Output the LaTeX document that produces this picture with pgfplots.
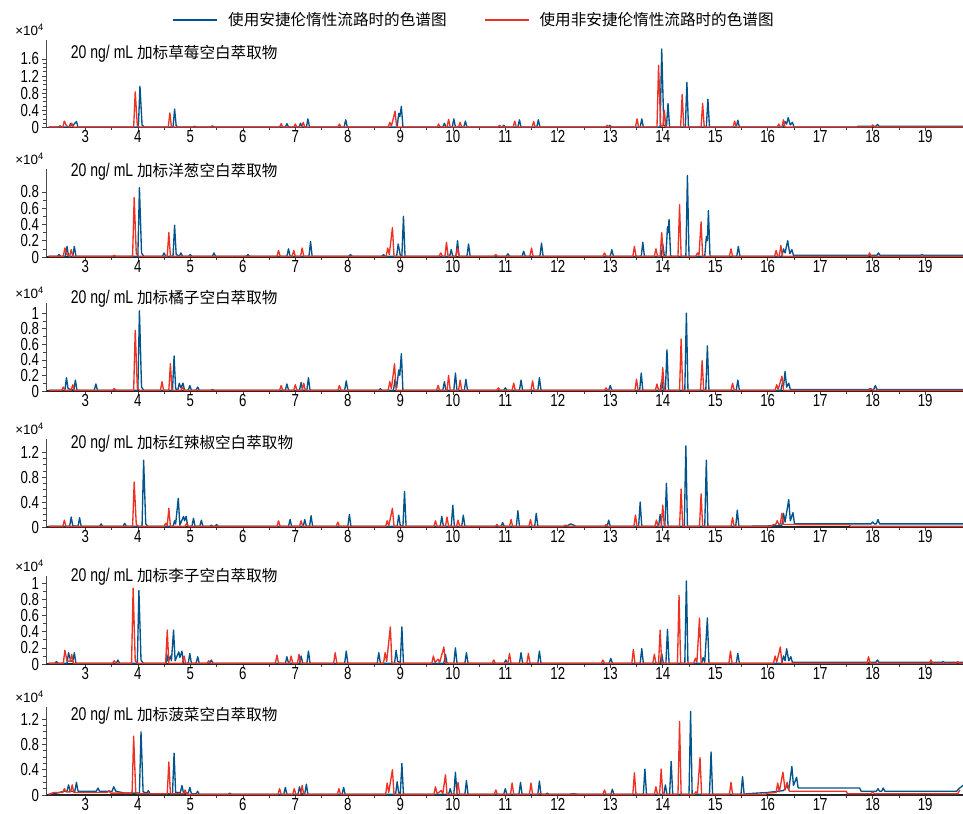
\documentclass[border=0pt]{standalone}
\usepackage{pgfplots}
\pgfplotsset{compat=1.18}
\usepackage{fontspec}
\setmainfont{Liberation Sans}[FakeStretch=0.76]
\newfontfamily\plainsans{Liberation Sans}
\newfontfamily\cjk{Noto Sans CJK SC}
\definecolor{inertblue}{RGB}{0,84,140}
\definecolor{stdred}{RGB}{237,50,36}
\newcommand\tickfont{\fontsize{17.5}{17.5}\selectfont}
\newcommand\titlefont{\fontsize{18.5}{19}\selectfont}
\newcommand\cjkfont{\cjk\fontsize{15.6bp}{17bp}\selectfont}
\newcommand\expfont{\plainsans\fontsize{13.5}{13.5}\selectfont}
% legend key: a coloured stroke set in front of the entry text
\newcommand\keyline[1]{\textcolor{#1}{\rule[0.3em]{44bp}{1.2bp}}\hspace*{11bp}}

\pgfplotsset{
  chrom/.style={
    scale only axis, width=917bp, height=88bp,
    anchor=south west,
    xmin=2.25, xmax=19.72, ymin=0,
    axis x line*=bottom, axis y line*=left,
    xtick={3,...,19}, minor x tick num=1,
    tick align=outside,
    major tick length=3.5bp, minor tick length=2.5bp,
    tick style={black!75, line width=0.6pt},
    x axis line style={black!85, line width=1.3pt},
    y axis line style={black!70, line width=0.6pt},
    tick label style={font=\tickfont},
    /pgf/number format/assume math mode=true,
    scaled y ticks=false,
    yticklabel style={/pgf/number format/fixed, inner ysep=0pt},
    xticklabel style={yshift=4bp},
    clip mode=individual,
    every axis plot/.append style={line width=1.35pt, line join=round, mark=none},
  },
}
\newcommand\expnote{\node[anchor=east, font=\expfont, inner sep=0pt] at (rel axis cs:0,1.114) {×10\textsuperscript{4}\hspace*{2bp}};}

\begin{document}
\begin{tikzpicture}
\path[use as bounding box] (0,0) rectangle (963bp,-814bp);

% ---------- strawberry ----------
\begin{axis}[chrom, at={(46bp,-127.5bp)}, ymax=2.05,
  ytick={0,0.4,0.8,1.2,1.6}, minor y tick num=3,
  legend image code/.code={},
  legend style={at={(rel axis cs:0.1385,1.227)}, anchor=west, draw=none, fill=none,
    legend columns=2, font=\cjkfont, inner sep=0pt,
    nodes={inner sep=0pt},
    /tikz/every odd column/.append style={column sep=0bp},
    /tikz/every even column/.append style={column sep=38bp}},
]
\addplot[color=inertblue] coordinates {(2.30,0.01)(2.49,0.01)(2.52,0.04)(2.55,0.01)(2.69,0.01)(2.72,0.10)(2.75,0.03)(2.83,0.14)(2.86,0.01)(4.01,0.01)(4.04,0.96)(4.08,0.06)(4.12,0.01)(4.67,0.01)(4.70,0.43)(4.73,0.04)(4.77,0.01)(5.05,0.01)(5.08,0.03)(5.11,0.01)(5.39,0.01)(5.42,0.04)(5.45,0.01)(6.81,0.01)(6.84,0.09)(6.87,0.01)(7.07,0.01)(7.10,0.10)(7.13,0.01)(7.21,0.01)(7.24,0.20)(7.27,0.01)(7.93,0.01)(7.96,0.18)(7.99,0.01)(8.94,0.01)(8.97,0.33)(8.99,0.25)(9.02,0.49)(9.05,0.01)(9.81,0.01)(9.84,0.10)(9.87,0.01)(9.99,0.01)(10.02,0.20)(10.05,0.01)(10.21,0.01)(10.24,0.15)(10.27,0.01)(10.94,0.01)(10.97,0.05)(11.00,0.01)(11.24,0.01)(11.27,0.18)(11.30,0.01)(11.60,0.01)(11.63,0.18)(11.66,0.01)(12.96,0.01)(12.99,0.05)(13.02,0.01)(13.57,0.01)(13.60,0.20)(13.63,0.01)(13.95,0.01)(13.98,1.83)(14.02,0.05)(14.07,0.01)(14.10,0.56)(14.13,0.01)(14.43,0.01)(14.46,1.05)(14.49,0.01)(14.83,0.01)(14.86,0.66)(14.89,0.01)(15.40,0.01)(15.43,0.17)(15.46,0.01)(16.30,0.01)(16.33,0.14)(16.36,0.08)(16.39,0.23)(16.43,0.06)(16.47,0.12)(16.50,0.01)(17.70,0.01)(17.72,0.03)(18.06,0.03)(18.09,0.07)(18.12,0.03)(19.72,0.03)};
\addlegendentry{\keyline{inertblue}使用安捷伦惰性流路时的色谱图}
\addplot[color=stdred] coordinates {(2.30,0.01)(2.57,0.01)(2.60,0.15)(2.64,0.04)(2.71,0.01)(2.74,0.10)(2.77,0.01)(3.92,0.01)(3.95,0.83)(3.99,0.04)(4.03,0.01)(4.58,0.01)(4.61,0.34)(4.64,0.01)(6.70,0.01)(6.73,0.09)(6.76,0.01)(6.97,0.01)(7.00,0.08)(7.03,0.01)(7.12,0.01)(7.15,0.12)(7.18,0.01)(7.81,0.01)(7.84,0.08)(7.87,0.01)(8.77,0.01)(8.80,0.12)(8.83,0.03)(8.90,0.38)(8.93,0.01)(9.70,0.01)(9.73,0.08)(9.76,0.01)(9.89,0.01)(9.92,0.19)(9.95,0.01)(10.11,0.01)(10.14,0.12)(10.17,0.01)(10.86,0.01)(10.89,0.05)(10.92,0.01)(11.15,0.01)(11.18,0.15)(11.21,0.01)(11.51,0.01)(11.54,0.14)(11.57,0.01)(12.91,0.01)(12.94,0.05)(12.97,0.01)(13.48,0.01)(13.51,0.20)(13.54,0.01)(13.89,0.01)(13.92,1.45)(13.96,0.05)(14.00,0.02)(14.03,0.40)(14.06,0.01)(14.34,0.01)(14.37,0.77)(14.40,0.01)(14.73,0.01)(14.76,0.56)(14.79,0.01)(15.34,0.01)(15.37,0.15)(15.40,0.01)(16.18,0.01)(16.21,0.08)(16.24,0.01)(16.27,0.01)(16.30,0.18)(16.33,0.01)(17.97,0.01)(18.00,0.06)(18.03,0.01)(19.72,0.01)};
\addlegendentry{\keyline{stdred}使用非安捷伦惰性流路时的色谱图}
\expnote
\node[anchor=west, inner sep=0pt] at (rel axis cs:0.027,0.84) {\titlefont 20 ng/ mL {\cjkfont 加标草莓空白萃取物}};
\end{axis}

% ---------- onion ----------
\begin{axis}[chrom, at={(46bp,-257bp)}, ymax=1.08,
  ytick={0,0.2,0.4,0.6,0.8}, minor y tick num=1]
\addplot[color=inertblue] coordinates {(2.30,0.01)(2.47,0.01)(2.50,0.03)(2.53,0.01)(2.62,0.01)(2.65,0.13)(2.68,0.01)(2.76,0.01)(2.79,0.13)(2.82,0.01)(4.00,0.01)(4.03,0.85)(4.07,0.05)(4.11,0.01)(4.47,0.01)(4.50,0.05)(4.53,0.01)(4.67,0.01)(4.70,0.39)(4.73,0.03)(4.79,0.01)(4.82,0.05)(4.85,0.01)(4.97,0.01)(5.00,0.03)(5.03,0.01)(5.42,0.01)(5.45,0.05)(5.48,0.01)(6.07,0.01)(6.10,0.03)(6.13,0.01)(6.84,0.01)(6.87,0.10)(6.90,0.01)(7.26,0.01)(7.29,0.19)(7.32,0.01)(8.02,0.01)(8.05,0.03)(8.08,0.01)(8.65,0.01)(8.68,0.03)(8.71,0.01)(8.93,0.01)(8.96,0.16)(9.00,0.02)(9.03,0.01)(9.06,0.50)(9.09,0.01)(9.94,0.01)(9.97,0.09)(10.00,0.01)(10.06,0.01)(10.09,0.20)(10.12,0.01)(10.27,0.01)(10.30,0.16)(10.33,0.01)(11.02,0.01)(11.05,0.04)(11.08,0.01)(11.32,0.01)(11.35,0.07)(11.38,0.01)(11.66,0.01)(11.69,0.17)(11.72,0.01)(13.00,0.01)(13.03,0.09)(13.06,0.01)(13.59,0.01)(13.62,0.18)(13.65,0.01)(13.97,0.01)(14.00,0.16)(14.03,0.01)(14.06,0.01)(14.09,0.37)(14.10,0.30)(14.12,0.46)(14.15,0.01)(14.44,0.01)(14.47,1.00)(14.50,0.01)(14.80,0.01)(14.83,0.25)(14.85,0.20)(14.87,0.57)(14.90,0.01)(15.41,0.01)(15.44,0.13)(15.47,0.01)(16.27,0.01)(16.30,0.10)(16.33,0.05)(16.38,0.20)(16.42,0.04)(16.46,0.09)(16.49,0.02)(18.08,0.02)(18.11,0.05)(18.14,0.02)(18.91,0.02)(18.94,0.03)(18.97,0.02)(19.72,0.02)};
\addplot[color=stdred] coordinates {(2.30,0.01)(2.58,0.01)(2.61,0.11)(2.65,0.03)(2.70,0.01)(2.73,0.09)(2.76,0.01)(3.52,0.01)(3.55,0.02)(3.58,0.01)(3.90,0.01)(3.93,0.73)(3.97,0.04)(4.01,0.01)(4.56,0.01)(4.59,0.30)(4.62,0.01)(6.65,0.01)(6.68,0.08)(6.71,0.01)(6.94,0.01)(6.97,0.08)(7.00,0.01)(7.10,0.01)(7.13,0.11)(7.16,0.01)(8.73,0.01)(8.76,0.11)(8.79,0.03)(8.85,0.36)(8.88,0.01)(9.74,0.01)(9.77,0.05)(9.80,0.01)(9.85,0.01)(9.88,0.18)(9.91,0.01)(10.06,0.01)(10.09,0.11)(10.12,0.01)(10.79,0.01)(10.82,0.03)(10.85,0.01)(11.47,0.01)(11.50,0.11)(11.53,0.01)(12.86,0.01)(12.89,0.05)(12.92,0.01)(13.43,0.01)(13.46,0.13)(13.49,0.01)(13.84,0.01)(13.87,0.10)(13.90,0.01)(13.95,0.01)(13.98,0.30)(14.01,0.01)(14.29,0.01)(14.32,0.64)(14.35,0.01)(14.63,0.01)(14.66,0.05)(14.69,0.02)(14.73,0.43)(14.76,0.01)(15.27,0.01)(15.30,0.10)(15.33,0.01)(16.13,0.01)(16.16,0.08)(16.19,0.01)(16.22,0.01)(16.25,0.14)(16.28,0.01)(17.91,0.01)(17.94,0.05)(17.97,0.01)(19.72,0.01)};
\expnote
\node[anchor=west, inner sep=0pt] at (rel axis cs:0.027,0.966) {\titlefont 20 ng/ mL {\cjkfont 加标洋葱空白萃取物}};
\end{axis}

% ---------- tangerine ----------
\begin{axis}[chrom, at={(46bp,-391bp)}, ymax=1.13,
  ytick={0,0.2,0.4,0.6,0.8,1}, minor y tick num=1]
\addplot[color=inertblue] coordinates {(2.30,0.01)(2.61,0.01)(2.64,0.17)(2.67,0.03)(2.78,0.01)(2.81,0.14)(2.84,0.01)(3.17,0.01)(3.20,0.09)(3.23,0.01)(4.00,0.01)(4.03,1.03)(4.07,0.05)(4.11,0.01)(4.66,0.01)(4.69,0.45)(4.72,0.03)(4.76,0.01)(4.79,0.10)(4.82,0.04)(4.86,0.10)(4.89,0.01)(4.96,0.01)(4.99,0.07)(5.02,0.01)(5.11,0.01)(5.14,0.05)(5.17,0.01)(5.39,0.01)(5.42,0.02)(5.45,0.01)(6.81,0.01)(6.84,0.09)(6.87,0.01)(7.08,0.01)(7.11,0.11)(7.14,0.01)(7.22,0.01)(7.25,0.17)(7.28,0.01)(7.94,0.01)(7.97,0.13)(8.00,0.01)(8.59,0.01)(8.62,0.03)(8.65,0.01)(8.87,0.01)(8.90,0.15)(8.93,0.04)(8.97,0.27)(8.99,0.20)(9.02,0.48)(9.05,0.01)(9.81,0.01)(9.84,0.12)(9.87,0.01)(10.02,0.01)(10.05,0.23)(10.08,0.01)(10.22,0.01)(10.25,0.15)(10.28,0.01)(10.97,0.01)(11.00,0.04)(11.03,0.01)(11.27,0.01)(11.30,0.14)(11.33,0.01)(11.62,0.01)(11.65,0.17)(11.68,0.01)(12.97,0.01)(13.00,0.07)(13.03,0.01)(13.56,0.01)(13.59,0.23)(13.62,0.01)(13.95,0.01)(13.98,0.14)(14.01,0.01)(14.05,0.01)(14.08,0.53)(14.11,0.01)(14.42,0.01)(14.45,1.00)(14.48,0.01)(14.82,0.01)(14.85,0.58)(14.88,0.01)(15.40,0.01)(15.43,0.14)(15.46,0.01)(16.25,0.01)(16.28,0.10)(16.30,0.06)(16.33,0.25)(16.36,0.05)(16.40,0.10)(16.43,0.02)(17.92,0.02)(17.95,0.03)(17.98,0.02)(18.02,0.02)(18.05,0.07)(18.08,0.02)(19.72,0.02)};
\addplot[color=stdred] coordinates {(2.30,0.01)(2.55,0.01)(2.58,0.05)(2.61,0.01)(2.73,0.01)(2.76,0.08)(2.79,0.01)(3.52,0.01)(3.55,0.03)(3.58,0.01)(3.92,0.01)(3.95,0.78)(3.99,0.04)(4.03,0.01)(4.43,0.01)(4.46,0.12)(4.49,0.01)(4.59,0.01)(4.62,0.35)(4.65,0.01)(4.82,0.01)(4.85,0.05)(4.88,0.01)(6.70,0.01)(6.73,0.07)(6.76,0.01)(6.97,0.01)(7.00,0.08)(7.03,0.01)(7.13,0.01)(7.16,0.10)(7.19,0.01)(7.81,0.01)(7.84,0.07)(7.87,0.01)(8.77,0.01)(8.80,0.12)(8.83,0.03)(8.89,0.35)(8.92,0.01)(9.69,0.01)(9.72,0.07)(9.75,0.01)(9.89,0.01)(9.92,0.20)(9.95,0.01)(10.11,0.01)(10.14,0.14)(10.17,0.01)(10.84,0.01)(10.87,0.04)(10.90,0.01)(11.13,0.01)(11.16,0.10)(11.19,0.01)(11.49,0.01)(11.52,0.13)(11.55,0.01)(12.89,0.01)(12.92,0.04)(12.95,0.01)(13.47,0.01)(13.50,0.15)(13.53,0.01)(13.86,0.01)(13.89,0.09)(13.92,0.01)(13.97,0.01)(14.00,0.30)(14.03,0.01)(14.32,0.01)(14.35,0.67)(14.38,0.01)(14.72,0.01)(14.75,0.39)(14.78,0.01)(15.30,0.01)(15.33,0.10)(15.36,0.01)(16.14,0.01)(16.17,0.08)(16.20,0.02)(16.27,0.19)(16.30,0.01)(17.94,0.01)(17.97,0.03)(18.00,0.01)(19.72,0.01)};
\expnote
\node[anchor=west, inner sep=0pt] at (rel axis cs:0.027,1.045) {\titlefont 20 ng/ mL {\cjkfont 加标橘子空白萃取物}};
\end{axis}

% ---------- red chili ----------
\begin{axis}[chrom, at={(46bp,-527bp)}, ymax=1.41,
  ytick={0,0.4,0.8,1.2}, minor y tick num=3]
\addplot[color=inertblue] coordinates {(2.30,0.01)(2.70,0.01)(2.73,0.16)(2.76,0.02)(2.86,0.01)(2.89,0.15)(2.92,0.01)(3.27,0.01)(3.30,0.05)(3.33,0.01)(3.72,0.01)(3.75,0.06)(3.78,0.01)(4.08,0.01)(4.11,1.07)(4.15,0.05)(4.19,0.01)(4.67,0.01)(4.70,0.10)(4.72,0.05)(4.77,0.46)(4.80,0.03)(4.87,0.17)(4.89,0.10)(4.92,0.17)(4.95,0.01)(5.03,0.01)(5.06,0.14)(5.09,0.01)(5.18,0.01)(5.21,0.11)(5.24,0.01)(5.37,0.01)(5.40,0.03)(5.43,0.01)(5.47,0.01)(5.50,0.04)(5.53,0.01)(6.87,0.01)(6.90,0.12)(6.93,0.01)(7.15,0.01)(7.18,0.12)(7.21,0.01)(7.27,0.01)(7.30,0.18)(7.33,0.01)(8.00,0.01)(8.03,0.20)(8.06,0.01)(8.94,0.01)(8.97,0.19)(9.00,0.02)(9.05,0.01)(9.08,0.57)(9.11,0.01)(9.76,0.01)(9.79,0.17)(9.82,0.01)(9.97,0.01)(10.00,0.35)(10.03,0.01)(10.17,0.01)(10.20,0.19)(10.23,0.01)(10.92,0.01)(10.95,0.07)(10.98,0.01)(11.21,0.01)(11.24,0.26)(11.27,0.01)(11.56,0.01)(11.59,0.22)(11.62,0.01)(12.15,0.01)(12.25,0.05)(12.35,0.01)(12.94,0.01)(12.97,0.11)(13.00,0.01)(13.54,0.01)(13.57,0.40)(13.60,0.01)(13.92,0.01)(13.95,0.20)(13.98,0.01)(14.04,0.01)(14.07,0.70)(14.10,0.01)(14.41,0.01)(14.44,1.30)(14.47,0.01)(14.80,0.01)(14.83,1.07)(14.86,0.01)(15.39,0.01)(15.42,0.27)(15.45,0.01)(16.20,0.02)(16.27,0.03)(16.30,0.22)(16.33,0.08)(16.40,0.44)(16.43,0.10)(16.48,0.23)(16.51,0.05)(16.55,0.05)(17.97,0.05)(18.00,0.08)(18.03,0.05)(18.07,0.05)(18.10,0.12)(18.13,0.05)(19.72,0.05)};
\addplot[color=stdred] coordinates {(2.30,0.01)(2.57,0.01)(2.60,0.11)(2.63,0.01)(3.90,0.01)(3.93,0.72)(3.97,0.04)(4.01,0.01)(4.50,0.01)(4.53,0.06)(4.56,0.02)(4.59,0.30)(4.62,0.01)(4.90,0.01)(4.93,0.06)(4.96,0.01)(6.65,0.01)(6.68,0.10)(6.71,0.01)(7.08,0.01)(7.11,0.10)(7.14,0.01)(7.78,0.01)(7.81,0.08)(7.84,0.01)(8.72,0.01)(8.75,0.10)(8.78,0.02)(8.85,0.30)(8.88,0.01)(9.64,0.01)(9.67,0.10)(9.70,0.01)(9.86,0.01)(9.89,0.16)(9.92,0.01)(10.07,0.01)(10.10,0.11)(10.13,0.01)(10.81,0.01)(10.84,0.04)(10.87,0.01)(11.08,0.01)(11.11,0.12)(11.14,0.01)(11.45,0.01)(11.48,0.12)(11.51,0.01)(12.10,0.01)(12.15,0.03)(12.20,0.01)(12.89,0.01)(12.92,0.04)(12.95,0.01)(13.45,0.01)(13.48,0.19)(13.51,0.01)(13.85,0.01)(13.88,0.11)(13.91,0.01)(13.97,0.01)(14.00,0.35)(14.03,0.01)(14.32,0.01)(14.35,0.61)(14.38,0.01)(14.70,0.01)(14.73,0.53)(14.76,0.01)(15.30,0.01)(15.33,0.15)(15.36,0.01)(16.05,0.01)(16.10,0.035)(16.15,0.04)(16.18,0.10)(16.21,0.04)(16.24,0.05)(16.27,0.22)(16.30,0.04)(17.55,0.035)(17.58,0.01)(19.72,0.01)};
\expnote
\node[anchor=west, inner sep=0pt] at (rel axis cs:0.027,0.943) {\titlefont 20 ng/ mL {\cjkfont 加标红辣椒空白萃取物}};
\end{axis}

% ---------- plum ----------
\begin{axis}[chrom, at={(46bp,-664bp)}, ymax=1.09,
  ytick={0,0.2,0.4,0.6,0.8,1}, minor y tick num=1]
\addplot[color=inertblue] coordinates {(2.30,0.01)(2.42,0.01)(2.45,0.03)(2.48,0.01)(2.65,0.01)(2.68,0.14)(2.72,0.04)(2.76,0.03)(2.79,0.14)(2.82,0.01)(3.59,0.01)(3.62,0.05)(3.65,0.01)(3.99,0.01)(4.02,0.91)(4.06,0.05)(4.10,0.01)(4.54,0.01)(4.55,0.12)(4.58,0.03)(4.62,0.10)(4.64,0.04)(4.68,0.42)(4.71,0.04)(4.78,0.15)(4.80,0.08)(4.84,0.16)(4.87,0.01)(4.96,0.01)(4.99,0.13)(5.02,0.01)(5.11,0.01)(5.14,0.09)(5.17,0.01)(5.37,0.01)(5.40,0.05)(5.43,0.01)(6.81,0.01)(6.84,0.09)(6.87,0.01)(7.08,0.01)(7.11,0.10)(7.14,0.01)(7.22,0.01)(7.25,0.16)(7.28,0.01)(7.94,0.01)(7.97,0.16)(8.00,0.01)(8.56,0.01)(8.59,0.14)(8.62,0.01)(8.89,0.01)(8.92,0.17)(8.95,0.03)(9.00,0.02)(9.03,0.46)(9.06,0.01)(9.83,0.01)(9.86,0.12)(9.89,0.01)(10.02,0.01)(10.05,0.20)(10.08,0.01)(10.23,0.01)(10.26,0.14)(10.29,0.01)(10.98,0.01)(11.01,0.05)(11.04,0.01)(11.27,0.01)(11.30,0.14)(11.33,0.01)(11.62,0.01)(11.65,0.16)(11.68,0.01)(12.98,0.01)(13.01,0.07)(13.04,0.01)(13.57,0.01)(13.60,0.19)(13.63,0.01)(13.95,0.01)(13.98,0.13)(14.01,0.01)(14.06,0.01)(14.09,0.43)(14.12,0.01)(14.42,0.01)(14.45,1.03)(14.48,0.01)(14.74,0.01)(14.77,0.08)(14.80,0.02)(14.85,0.57)(14.88,0.01)(15.40,0.01)(15.43,0.13)(15.46,0.01)(16.27,0.01)(16.30,0.10)(16.33,0.04)(16.36,0.19)(16.40,0.04)(16.44,0.09)(16.47,0.02)(18.06,0.02)(18.09,0.05)(18.12,0.02)(19.31,0.02)(19.34,0.03)(19.37,0.02)(19.72,0.02)};
\addplot[color=stdred] coordinates {(2.30,0.01)(2.58,0.01)(2.61,0.17)(2.65,0.04)(2.71,0.03)(2.74,0.12)(2.77,0.01)(3.52,0.01)(3.55,0.04)(3.58,0.01)(3.88,0.01)(3.91,0.94)(3.95,0.04)(3.99,0.01)(4.53,0.01)(4.56,0.42)(4.59,0.01)(4.85,0.01)(4.88,0.10)(4.91,0.01)(5.32,0.01)(5.35,0.04)(5.38,0.01)(6.62,0.01)(6.65,0.11)(6.68,0.01)(6.89,0.01)(6.92,0.10)(6.95,0.01)(7.04,0.01)(7.07,0.12)(7.10,0.01)(7.73,0.01)(7.76,0.14)(7.79,0.01)(8.68,0.01)(8.71,0.14)(8.74,0.03)(8.81,0.46)(8.84,0.01)(9.60,0.01)(9.63,0.10)(9.66,0.02)(9.72,0.06)(9.75,0.02)(9.83,0.21)(9.86,0.01)(10.75,0.01)(10.78,0.05)(10.81,0.01)(11.05,0.01)(11.08,0.13)(11.11,0.01)(11.41,0.01)(11.44,0.13)(11.47,0.01)(12.83,0.01)(12.86,0.05)(12.89,0.01)(13.41,0.01)(13.44,0.18)(13.47,0.01)(13.81,0.01)(13.84,0.12)(13.87,0.01)(13.92,0.01)(13.95,0.42)(13.98,0.01)(14.28,0.01)(14.31,0.85)(14.34,0.01)(14.59,0.01)(14.62,0.07)(14.65,0.02)(14.70,0.57)(14.73,0.01)(15.26,0.01)(15.29,0.16)(15.32,0.01)(16.11,0.01)(16.14,0.10)(16.17,0.02)(16.24,0.21)(16.27,0.01)(17.89,0.01)(17.92,0.09)(17.95,0.01)(19.08,0.01)(19.11,0.05)(19.14,0.01)(19.59,0.01)(19.62,0.03)(19.65,0.01)(19.72,0.01)};
\expnote
\node[anchor=west, inner sep=0pt] at (rel axis cs:0.027,0.989) {\titlefont 20 ng/ mL {\cjkfont 加标李子空白萃取物}};
\end{axis}

% ---------- spinach ----------
\begin{axis}[chrom, at={(46bp,-795bp)}, ymax=1.39,
  ytick={0,0.4,0.8,1.2}, minor y tick num=3]
\addplot[color=inertblue] coordinates {(2.30,0.01)(2.45,0.03)(2.60,0.06)(2.65,0.06)(2.68,0.16)(2.71,0.06)(2.80,0.06)(2.83,0.20)(2.86,0.06)(3.21,0.06)(3.24,0.11)(3.27,0.06)(3.51,0.06)(3.54,0.13)(3.58,0.06)(3.75,0.03)(4.03,0.03)(4.06,1.00)(4.10,0.05)(4.17,0.03)(4.20,0.07)(4.23,0.02)(4.66,0.02)(4.69,0.66)(4.72,0.04)(4.81,0.04)(4.84,0.15)(4.87,0.03)(4.96,0.03)(4.99,0.12)(5.02,0.02)(5.11,0.02)(5.14,0.06)(5.17,0.01)(5.72,0.01)(5.75,0.03)(5.78,0.01)(6.78,0.01)(6.81,0.12)(6.84,0.01)(7.05,0.01)(7.08,0.13)(7.11,0.02)(7.18,0.02)(7.21,0.17)(7.24,0.01)(7.89,0.01)(7.92,0.12)(7.95,0.01)(8.91,0.01)(8.94,0.21)(8.97,0.03)(9.00,0.02)(9.03,0.50)(9.06,0.01)(9.92,0.01)(9.95,0.10)(9.98,0.01)(10.02,0.01)(10.05,0.36)(10.08,0.01)(10.23,0.01)(10.26,0.23)(10.29,0.01)(10.97,0.01)(11.00,0.10)(11.03,0.01)(11.26,0.01)(11.29,0.20)(11.32,0.01)(11.62,0.01)(11.65,0.22)(11.68,0.01)(11.77,0.01)(11.80,0.03)(11.83,0.01)(12.20,0.01)(12.30,0.02)(12.40,0.01)(13.01,0.01)(13.04,0.09)(13.07,0.01)(13.63,0.01)(13.66,0.41)(13.69,0.01)(14.02,0.01)(14.05,0.16)(14.08,0.01)(14.13,0.01)(14.16,0.53)(14.19,0.01)(14.50,0.01)(14.53,1.32)(14.56,0.01)(14.89,0.01)(14.92,0.68)(14.95,0.01)(15.49,0.01)(15.52,0.29)(15.55,0.01)(15.60,0.02)(16.00,0.04)(16.30,0.07)(16.37,0.15)(16.40,0.08)(16.46,0.45)(16.49,0.15)(16.55,0.28)(16.58,0.11)(17.75,0.11)(17.78,0.06)(18.07,0.06)(18.10,0.10)(18.13,0.06)(18.17,0.06)(18.20,0.11)(18.23,0.06)(19.60,0.06)(19.64,0.10)(19.72,0.15)};
\addplot[color=stdred] coordinates {(2.30,0.01)(2.40,0.04)(2.57,0.04)(2.60,0.10)(2.63,0.05)(2.72,0.05)(2.75,0.16)(2.78,0.04)(3.42,0.04)(3.45,0.07)(3.48,0.03)(3.89,0.03)(3.92,0.93)(3.96,0.04)(4.00,0.02)(4.56,0.02)(4.59,0.52)(4.62,0.02)(4.87,0.02)(4.90,0.08)(4.93,0.01)(6.67,0.01)(6.70,0.10)(6.73,0.01)(6.95,0.01)(6.98,0.10)(7.01,0.01)(7.10,0.01)(7.13,0.15)(7.16,0.01)(7.80,0.01)(7.83,0.10)(7.86,0.01)(8.72,0.01)(8.75,0.19)(8.78,0.04)(8.85,0.40)(8.88,0.01)(9.64,0.01)(9.67,0.13)(9.70,0.02)(9.78,0.07)(9.81,0.02)(9.86,0.32)(9.89,0.01)(10.07,0.01)(10.10,0.20)(10.13,0.01)(10.79,0.01)(10.82,0.08)(10.85,0.01)(11.10,0.01)(11.13,0.19)(11.16,0.01)(11.46,0.01)(11.49,0.19)(11.52,0.01)(11.64,0.01)(11.67,0.03)(11.70,0.01)(12.86,0.01)(12.89,0.08)(12.92,0.01)(13.43,0.01)(13.46,0.35)(13.49,0.01)(13.84,0.01)(13.87,0.13)(13.90,0.01)(13.94,0.01)(13.97,0.41)(14.00,0.01)(14.29,0.01)(14.32,1.16)(14.35,0.01)(14.60,0.01)(14.63,0.05)(14.66,0.02)(14.71,0.59)(14.74,0.01)(15.27,0.01)(15.30,0.20)(15.33,0.01)(15.95,0.01)(16.00,0.03)(16.16,0.04)(16.19,0.19)(16.22,0.05)(16.29,0.36)(16.33,0.08)(16.37,0.20)(16.41,0.06)(17.49,0.06)(17.52,0.02)(17.97,0.02)(18.00,0.05)(18.03,0.02)(19.62,0.02)(19.66,0.08)};
\expnote
\node[anchor=west, inner sep=0pt] at (rel axis cs:0.027,0.898) {\titlefont 20 ng/ mL {\cjkfont 加标菠菜空白萃取物}};
\end{axis}
\end{tikzpicture}
\end{document}
